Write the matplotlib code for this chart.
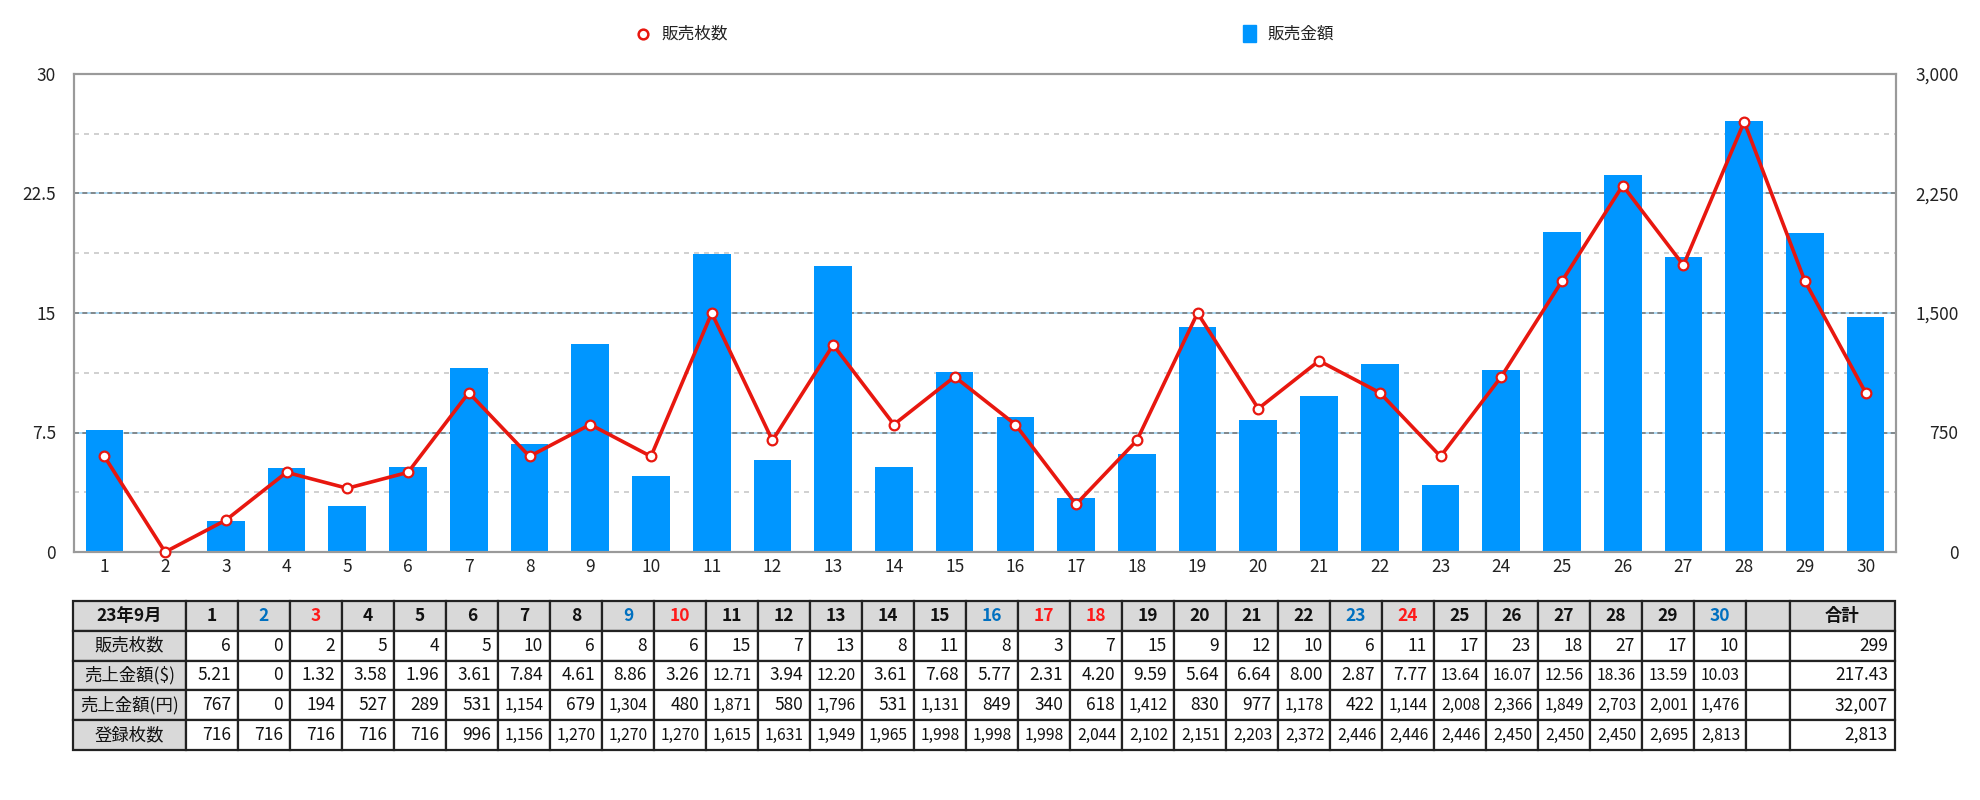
import matplotlib
matplotlib.use('Agg')
import matplotlib.pyplot as plt
from matplotlib.patches import Rectangle

plt.rcParams['font.family'] = ['Noto Sans CJK JP', 'DejaVu Sans']

# ---------------- data ----------------
days = list(range(1, 31))
sales_count = [6, 0, 2, 5, 4, 5, 10, 6, 8, 6, 15, 7, 13, 8, 11, 8, 3, 7, 15, 9,
               12, 10, 6, 11, 17, 23, 18, 27, 17, 10]
sales_usd = [5.21, 0, 1.32, 3.58, 1.96, 3.61, 7.84, 4.61, 8.86, 3.26, 12.71, 3.94,
             12.20, 3.61, 7.68, 5.77, 2.31, 4.20, 9.59, 5.64, 6.64, 8.00, 2.87, 7.77,
             13.64, 16.07, 12.56, 18.36, 13.59, 10.03]
sales_jpy = [767, 0, 194, 527, 289, 531, 1154, 679, 1304, 480, 1871, 580, 1796, 531,
             1131, 849, 340, 618, 1412, 830, 977, 1178, 422, 1144, 2008, 2366, 1849,
             2703, 2001, 1476]
registered = [716, 716, 716, 716, 716, 996, 1156, 1270, 1270, 1270, 1615, 1631, 1949,
              1965, 1998, 1998, 1998, 2044, 2102, 2151, 2203, 2372, 2446, 2446, 2446,
              2450, 2450, 2450, 2695, 2813]
blue_days = [2, 9, 16, 23, 30]
red_days = [3, 10, 17, 18, 24]
row_labels = ['販売枚数', '売上金額($)', '売上金額(円)', '登録枚数']
month_label = '23年9月'
total_label = '合計'
legend_line = '販売枚数'
legend_bar = '販売金額'
left_ticks = [0, 7.5, 15, 22.5, 30]
left_tick_labels = ['0', '7.5', '15', '22.5', '30']
right_ticks = [0, 750, 1500, 2250, 3000]
right_tick_labels = ['0', '750', '1,500', '2,250', '3,000']

BAR = '#0096FF'
RED = '#E8170F'

W, H = 1980, 800
fig = plt.figure(figsize=(W / 100, H / 100), dpi=100)

L, R, T, B = 74, 1896, 74, 552
ax2 = fig.add_axes([L / W, 1 - B / H, (R - L) / W, (B - T) / H])
ax = ax2.twinx()
ax.set_zorder(ax2.get_zorder() + 1)
ax.patch.set_visible(False)

# grid on bar axis (behind bars)
for k in range(1, 8):
    v = 375 * k
    if k % 2 == 0:
        ax2.axhline(v, color='#9fd3f2', lw=1.2, zorder=0)
        ax2.axhline(v, color='#7a7a7a', lw=1.2, ls=(0, (3, 2)), zorder=0.5)
    else:
        ax2.axhline(v, color='#c8c8c8', lw=1.2, ls=(0, (3, 3)), zorder=0.5)

ax2.bar(days, sales_jpy, width=0.62, color=BAR, zorder=2)
ax.plot(days, sales_count, color=RED, lw=2.6, marker='o', ms=7,
        mfc='white', mec=RED, mew=1.6, zorder=3, clip_on=False)

ax.set_xlim(0.5, 30.5)
ax2.set_xlim(0.5, 30.5)
ax.set_ylim(0, 30)
ax2.set_ylim(0, 3000)

ax2.yaxis.tick_right()
ax.yaxis.tick_left()
ax.set_yticks(left_ticks)
ax.set_yticklabels(left_tick_labels, fontsize=12.5, color='#222222')
ax2.set_yticks(right_ticks)
ax2.set_yticklabels(right_tick_labels, fontsize=12.5, color='#222222')
for lab in ax2.get_yticklabels():
    lab.set_horizontalalignment('right')
ax.tick_params(axis='y', length=0, pad=13)
ax2.tick_params(axis='y', length=0, pad=45)
ax2.set_xticks(days)
ax2.set_xticklabels([str(d) for d in days], fontsize=12.5, color='#222222')
ax2.tick_params(axis='x', length=0, pad=4)
ax.tick_params(axis='x', length=0, labelbottom=False)

for a in (ax, ax2):
    for s in a.spines.values():
        s.set_color('#9a9a9a')
        s.set_linewidth(1.5)

# ---------------- overlay: legend + table ----------------
ov = fig.add_axes([0, 0, 1, 1])
ov.set_xlim(0, W)
ov.set_ylim(H, 0)
ov.axis('off')

ov.plot([643], [34], marker='o', ms=7, mfc='white', mec=RED, mew=1.8)
ov.text(662, 34, legend_line, va='center', ha='left', fontsize=12, color='#222222')
ov.add_patch(Rectangle((1243, 25), 13, 17, color=BAR))
ov.text(1268, 34, legend_bar, va='center', ha='left', fontsize=12, color='#222222')

tx0, tx1 = 73, 186
dw = 52
ex0 = tx1 + 30 * dw
ex1 = 1790
tot1 = 1895
ty0, ty1 = 601, 750
rh = (ty1 - ty0) / 5
GRAY = '#d9d9d9'
EDGE = '#222222'

def cell(x0, x1, r, fill):
    ov.add_patch(Rectangle((x0, ty0 + r * rh), x1 - x0, rh, facecolor=fill,
                           edgecolor=EDGE, lw=1.6))

def fmt_int(v):
    return f'{v:,}'

def fmt_usd(v):
    return '0' if v == 0 else f'{v:.2f}'

rows_vals = [
    [str(v) for v in sales_count],
    [fmt_usd(v) for v in sales_usd],
    [fmt_int(v) for v in sales_jpy],
    [fmt_int(v) for v in registered],
]
totals = [str(sum(sales_count)), f'{sum(sales_usd):.2f}', fmt_int(sum(sales_jpy)),
          fmt_int(registered[-1])]

FS = 12.5
# header row
cell(tx0, tx1, 0, GRAY)
ov.text((tx0 + tx1) / 2, ty0 + rh / 2, month_label, ha='center', va='center',
        fontsize=FS, fontweight='bold', color='#111111')
for i, d in enumerate(days):
    x0 = tx1 + i * dw
    cell(x0, x0 + dw, 0, GRAY)
    col = '#0070C0' if d in blue_days else ('#FF1a1a' if d in red_days else '#111111')
    ov.text(x0 + dw / 2, ty0 + rh / 2, str(d), ha='center', va='center',
            fontsize=FS, fontweight='bold', color=col)
cell(ex0, ex1, 0, GRAY)
cell(ex1, tot1, 0, GRAY)
ov.text((ex1 + tot1) / 2, ty0 + rh / 2, total_label, ha='center', va='center',
        fontsize=FS, fontweight='bold', color='#111111')

for r in range(4):
    rr = r + 1
    yc = ty0 + rr * rh + rh / 2
    cell(tx0, tx1, rr, GRAY)
    ov.text((tx0 + tx1) / 2, yc, row_labels[r], ha='center', va='center',
            fontsize=FS, color='#111111')
    for i in range(30):
        x0 = tx1 + i * dw
        cell(x0, x0 + dw, rr, 'white')
        s = rows_vals[r][i]
        if len(s) >= 5:
            ov.text(x0 + dw / 2 + 0.5, yc, s, ha='center', va='center',
                    fontsize=11.3, color='#111111')
        else:
            ov.text(x0 + dw - 7, yc, s, ha='right', va='center',
                    fontsize=FS, color='#111111')
    cell(ex0, ex1, rr, 'white')
    cell(ex1, tot1, rr, 'white')
    ov.text(tot1 - 7, yc, totals[r], ha='right', va='center', fontsize=FS,
            color='#111111')

fig.savefig('out.png', dpi=100, facecolor='white')
